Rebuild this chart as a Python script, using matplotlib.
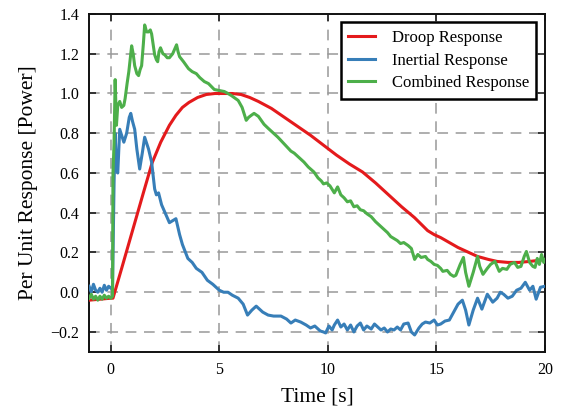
import matplotlib
matplotlib.use("Agg")
import matplotlib.pyplot as plt

plt.rcParams['font.family'] = ['Liberation Serif', 'DejaVu Serif']
plt.rcParams['mathtext.fontset'] = 'stix'

# ---------------- data ----------------
droop_t = [-1, -0.5, 0.0, 0.1, 0.5, 1.0, 1.5, 1.9, 2.3, 2.7,
           3.0, 3.3, 3.6, 4.0, 4.4, 4.8, 5.2, 5.6, 6.0, 6.4,
           6.8, 7.4, 8.0, 8.6, 9.2, 9.8, 10.4, 11.0, 11.6, 12.2,
           12.8, 13.4, 14.0, 14.6, 14.9, 15.2, 15.6, 16.0, 16.4, 16.9,
           17.4, 17.8, 18.3, 18.8, 19.3, 19.7, 20.0]
droop_v = [-0.04, -0.035, -0.03, -0.03, 0.12, 0.31, 0.5, 0.65, 0.755, 0.84,
           0.89, 0.93, 0.955, 0.98, 0.995, 1.0, 1.0, 1.0, 0.995, 0.98,
           0.96, 0.925, 0.88, 0.835, 0.79, 0.74, 0.69, 0.645, 0.605, 0.55,
           0.49, 0.43, 0.375, 0.31, 0.29, 0.275, 0.25, 0.225, 0.205, 0.18,
           0.165, 0.155, 0.15, 0.15, 0.155, 0.16, 0.165]

inertial_t = [-1.0, -0.9, -0.8, -0.7, -0.6, -0.5, -0.4, -0.3, -0.2, -0.1,
              0.0, 0.08, 0.15, 0.2, 0.26, 0.32, 0.41, 0.5, 0.6, 0.73,
              0.85, 0.92, 1.0, 1.1, 1.2, 1.33, 1.45, 1.56, 1.65, 1.74,
              1.88, 2.02, 2.1, 2.2, 2.34, 2.5, 2.7, 2.85, 3.0, 3.17,
              3.3, 3.55, 3.75, 3.94, 4.2, 4.45, 4.7, 5.0, 5.2, 5.4,
              5.6, 5.87, 6.1, 6.3, 6.5, 6.7, 7.0, 7.25, 7.5, 7.84,
              8.1, 8.3, 8.5, 8.75, 9.0, 9.2, 9.4, 9.5, 9.65, 9.8,
              9.9, 10.05, 10.2, 10.3, 10.45, 10.6, 10.75, 10.9, 11.05, 11.2,
              11.35, 11.5, 11.65, 11.8, 12.0, 12.15, 12.3, 12.45, 12.6, 12.75,
              12.9, 13.05, 13.2, 13.35, 13.5, 13.7, 13.85, 14.0, 14.2, 14.35,
              14.5, 14.7, 14.9, 15.05, 15.2, 15.4, 15.6, 15.8, 16.0, 16.2,
              16.35, 16.5, 16.7, 16.9, 17.1, 17.35, 17.6, 17.8, 17.95, 18.1,
              18.3, 18.5, 18.7, 18.9, 19.1, 19.3, 19.45, 19.6, 19.8, 20.0]
inertial_v = [0.03, 0.0, 0.04, 0.01, 0.0, 0.02, 0.0, 0.035, 0.01, 0.03,
              0.02, 0.03, 0.55, 0.8, 0.62, 0.6, 0.82, 0.79, 0.755, 0.8,
              0.88, 0.9, 0.86, 0.82, 0.72, 0.62, 0.7, 0.78, 0.75, 0.72,
              0.655, 0.52, 0.49, 0.5, 0.44, 0.4, 0.35, 0.36, 0.37, 0.29,
              0.24, 0.17, 0.15, 0.12, 0.1, 0.06, 0.04, 0.01, 0.0, 0.0,
              -0.015, -0.03, -0.06, -0.115, -0.09, -0.07, -0.1, -0.115, -0.12, -0.12,
              -0.135, -0.155, -0.14, -0.15, -0.165, -0.18, -0.17, -0.18, -0.195, -0.2,
              -0.205, -0.17, -0.19, -0.165, -0.14, -0.175, -0.16, -0.19, -0.165, -0.2,
              -0.17, -0.155, -0.19, -0.17, -0.185, -0.16, -0.175, -0.19, -0.18, -0.2,
              -0.185, -0.19, -0.175, -0.19, -0.16, -0.155, -0.2, -0.215, -0.18, -0.16,
              -0.15, -0.155, -0.14, -0.165, -0.16, -0.145, -0.14, -0.1, -0.06, -0.04,
              -0.09, -0.165, -0.09, -0.03, -0.085, -0.01, -0.05, -0.03, 0.0, -0.01,
              -0.03, -0.02, 0.01, 0.02, 0.05, 0.01, 0.03, -0.035, 0.025, 0.03]

combined_t = [-1.0, -0.9, -0.8, -0.7, -0.6, -0.5, -0.4, -0.3, -0.2, -0.1,
              0.0, 0.08, 0.1, 0.15, 0.2, 0.26, 0.32, 0.41, 0.5, 0.6,
              0.66, 0.75, 0.83, 0.96, 1.03, 1.1, 1.2, 1.28, 1.35, 1.42,
              1.5, 1.56, 1.65, 1.74, 1.82, 1.88, 2.02, 2.1, 2.16, 2.22,
              2.29, 2.4, 2.48, 2.6, 2.7, 2.85, 3.03, 3.1, 3.17, 3.35,
              3.58, 3.75, 3.94, 4.1, 4.31, 4.5, 4.77, 5.0, 5.23, 5.4,
              5.55, 5.87, 6.05, 6.24, 6.35, 6.47, 6.6, 6.8, 7.06, 7.25,
              7.5, 7.7, 8.0, 8.3, 8.45, 8.6, 8.75, 8.9, 9.1, 9.36,
              9.55, 9.7, 9.8, 9.95, 10.1, 10.3, 10.45, 10.6, 10.75, 10.9,
              11.05, 11.2, 11.35, 11.5, 11.65, 11.8, 12.0, 12.2, 12.4, 12.6,
              12.75, 12.9, 13.05, 13.2, 13.35, 13.5, 13.7, 13.85, 14.0, 14.15,
              14.3, 14.5, 14.6, 14.75, 14.9, 15.05, 15.2, 15.3, 15.5, 15.65,
              15.8, 15.9, 16.1, 16.25, 16.35, 16.5, 16.7, 16.9, 17.0, 17.15,
              17.35, 17.5, 17.7, 17.9, 18.05, 18.25, 18.4, 18.6, 18.75, 18.9,
              19.05, 19.15, 19.3, 19.45, 19.55, 19.65, 19.75, 19.85, 19.95, 20.0]
combined_v = [-0.03, -0.01, -0.035, -0.02, -0.04, -0.02, -0.035, -0.015, -0.03, -0.02,
              -0.03, -0.02, 0.6, 0.75, 1.07, 0.84, 0.94, 0.96, 0.93, 0.94,
              0.975, 1.05, 1.11, 1.24, 1.2, 1.14, 1.1, 1.09, 1.12, 1.14,
              1.25, 1.345, 1.31, 1.31, 1.32, 1.3, 1.195, 1.17, 1.16, 1.21,
              1.23, 1.2, 1.195, 1.18, 1.18, 1.2, 1.245, 1.21, 1.185, 1.16,
              1.125, 1.11, 1.1, 1.08, 1.06, 1.05, 1.02, 1.015, 1.01, 1.0,
              0.99, 0.965, 0.93, 0.865, 0.88, 0.89, 0.9, 0.885, 0.845, 0.825,
              0.8, 0.78, 0.745, 0.71, 0.7, 0.685, 0.67, 0.655, 0.63, 0.605,
              0.575, 0.56, 0.545, 0.55, 0.535, 0.5, 0.53, 0.49, 0.475, 0.455,
              0.46, 0.43, 0.435, 0.415, 0.41, 0.395, 0.38, 0.355, 0.335, 0.315,
              0.3, 0.28, 0.27, 0.26, 0.245, 0.25, 0.235, 0.22, 0.165, 0.19,
              0.175, 0.18, 0.165, 0.155, 0.14, 0.135, 0.12, 0.105, 0.11, 0.09,
              0.08, 0.085, 0.14, 0.175, 0.1, 0.03, 0.1, 0.18, 0.13, 0.09,
              0.12, 0.14, 0.155, 0.105, 0.12, 0.115, 0.14, 0.15, 0.125, 0.13,
              0.18, 0.205, 0.15, 0.13, 0.125, 0.17, 0.14, 0.19, 0.15, 0.165]

series_names = ["Droop Response", "Inertial Response", "Combined Response"]
series_colors = ["#e41a1c", "#377eb8", "#4daf4a"]

x_ticks = [0, 5, 10, 15, 20]
y_ticks = [-0.2, 0.0, 0.2, 0.4, 0.6, 0.8, 1.0, 1.2, 1.4]

# ---------------- plot ----------------
fig = plt.figure(figsize=(5.64, 4.12), dpi=100)
ax = fig.add_axes([0.158, 0.146, 0.808, 0.82])

data = [(droop_t, droop_v), (inertial_t, inertial_v), (combined_t, combined_v)]
for (t, v), name, col in zip(data, series_names, series_colors):
    ax.plot(t, v, color=col, lw=2.2, label=name, zorder=3)

ax.set_xlim(-1, 20)
ax.set_ylim(-0.3, 1.4)
ax.set_xticks(x_ticks)
ax.set_yticks(y_ticks)
ax.set_yticklabels([f"{y:.1f}".replace("-", "\u2212") for y in y_ticks])

ax.grid(True, color="#999999", linestyle=(0, (7, 5)), linewidth=1.1, zorder=1)
ax.set_axisbelow(True)

ax.tick_params(direction="in", top=True, right=True, length=5, width=1.1,
               labelsize=11.5, pad=7, color="#111111")
for s in ax.spines.values():
    s.set_linewidth(1.4)
    s.set_color("#111111")

ax.set_xlabel("Time [s]", fontsize=15.5, labelpad=7)
ax.set_ylabel("Per Unit Response [Power]", fontsize=15.5, labelpad=9)

leg = ax.legend(loc="upper right", fontsize=12, fancybox=False, framealpha=1,
                edgecolor="black", handlelength=1.6, borderpad=0.45,
                labelspacing=0.4, handletextpad=1.0, borderaxespad=0.5)
leg.get_frame().set_linewidth(1.8)

fig.savefig("out.png", dpi=100)
